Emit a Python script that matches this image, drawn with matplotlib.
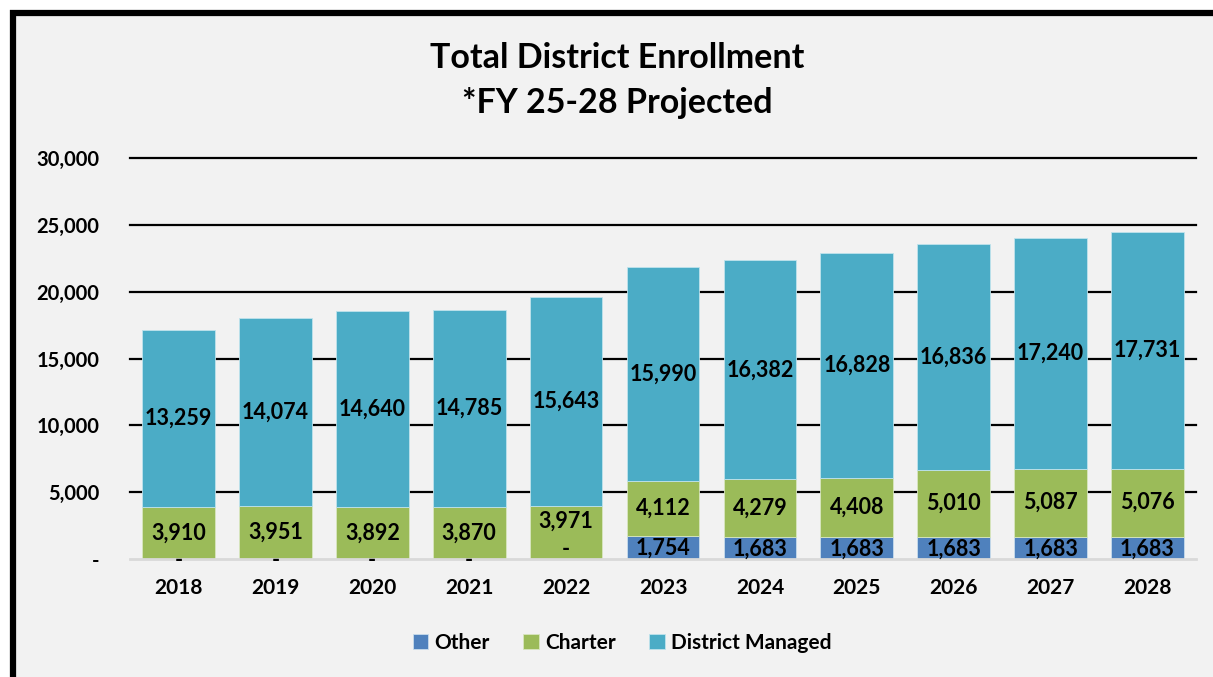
import matplotlib.pyplot as plt
import numpy as np
from matplotlib.patches import Rectangle

# Datos
years = ['2018', '2019', '2020', '2021', '2022', '2023', '2024', '2025', '2026', '2027', '2028']
other = [0, 0, 0, 0, 0, 1754, 1683, 1683, 1683, 1683, 1683]
charter = [3910, 3951, 3892, 3870, 3971, 4112, 4279, 4408, 5010, 5087, 5076]
district = [13259, 14074, 14640, 14785, 15643, 15990, 16382, 16828, 16836, 17240, 17731]

y_ticks = [0, 5000, 10000, 15000, 20000, 25000, 30000]
y_tick_labels = ['-', '5,000', '10,000', '15,000', '20,000', '25,000', '30,000']

c_other = '#4f81bd'
c_charter = '#9bbb59'
c_district = '#4bacc6'
bg = '#f2f2f2'

plt.rcParams['font.family'] = ['Lato', 'DejaVu Sans']
plt.rcParams['font.weight'] = 'bold'

fig = plt.figure(figsize=(12.13, 6.77), dpi=100, facecolor='white')
# marco negro arriba y a la izquierda
fig.patches.append(Rectangle((13 / 1213, -0.05), 1.1, 1.05 - 13 / 677, transform=fig.transFigure,
                             facecolor=bg, edgecolor='black', linewidth=4.5, zorder=-10))

ax = fig.add_axes([130 / 1213, 1 - 559 / 677, 1066 / 1213, 401 / 677])
ax.set_zorder(2)
ax.set_facecolor(bg)

x = np.arange(len(years))
other = np.array(other)
charter = np.array(charter)
district = np.array(district)

w = 0.75
ax.bar(x, other, w, color=c_other, edgecolor='#c8dcec', linewidth=0.6, label='Other', zorder=3)
ax.bar(x, charter, w, bottom=other, color=c_charter, edgecolor='#d8e6c0', linewidth=0.6,
       label='Charter', zorder=3)
ax.bar(x, district, w, bottom=other + charter, color=c_district, edgecolor='#bfe3ec',
       linewidth=0.6, label='District Managed', zorder=3)

def fmt(v):
    return '-' if v == 0 else f'{v:,}'

# 2022 tiene las etiquetas movidas a mano
nudge = {4: 8}
lab_size = 15.5

for i in range(len(years)):
    dy = nudge.get(i, 0)
    ax.annotate(fmt(other[i]), (x[i], other[i] / 2), xytext=(0, dy - 1), textcoords='offset points',
                ha='center', va='center', fontsize=lab_size, fontweight='bold', zorder=5,
                annotation_clip=False)
    ax.annotate(fmt(charter[i]), (x[i], other[i] + charter[i] / 2), xytext=(0, dy),
                textcoords='offset points', ha='center', va='center', fontsize=lab_size,
                fontweight='bold', zorder=5)
    ax.annotate(fmt(district[i]), (x[i], other[i] + charter[i] + district[i] / 2),
                ha='center', va='center', fontsize=lab_size, fontweight='bold', zorder=5)

ax.set_xlim(-0.5, len(years) - 0.5)
ax.set_ylim(0, 30000)
ax.set_yticks(y_ticks)
ax.set_yticklabels(y_tick_labels, fontsize=14.5, fontweight='bold')
ax.set_xticks(x)
ax.set_xticklabels(years, fontsize=15, fontweight='bold')
ax.tick_params(axis='both', length=0)
ax.tick_params(axis='y', pad=22)
ax.tick_params(axis='x', pad=14)

for yv in y_ticks[1:]:
    ax.axhline(yv, color='black', lw=1.6, zorder=1, clip_on=False)
for s in ['top', 'right', 'left']:
    ax.spines[s].set_visible(False)
ax.spines['bottom'].set_color('#d9d9d9')
ax.spines['bottom'].set_linewidth(2)
ax.spines['bottom'].set_zorder(4)

fig.text(0.509, 1 - 58 / 677, 'Total District Enrollment', ha='center', va='center',
         fontsize=24.5, fontweight='bold')
fig.text(0.509, 1 - 103 / 677, '*FY 25-28 Projected', ha='center', va='center',
         fontsize=24.5, fontweight='bold')

leg = fig.legend(loc='center', bbox_to_anchor=(622 / 1213, 1 - 643 / 677), ncol=3,
                 frameon=False, handlelength=0.75, handleheight=0.75,
                 handletextpad=0.3, columnspacing=1.6, prop={'weight': 'bold', 'size': 15})

fig.savefig('out.png', dpi=100, facecolor='white')
